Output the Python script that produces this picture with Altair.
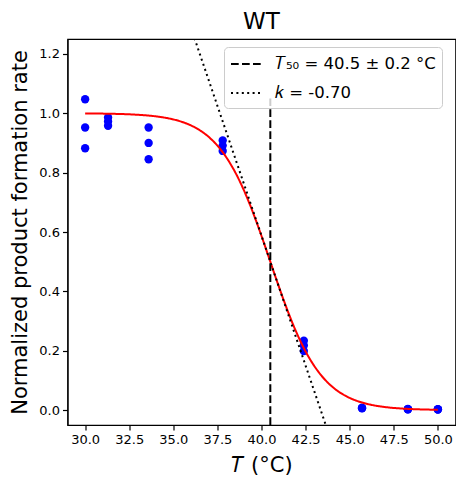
import altair as alt
import pandas as pd

# ---- data ----
temperature = [30.0, 31.3, 33.6, 37.8, 42.4, 45.7, 48.3, 50.0]
rep1 = [1.047, 0.986, 0.952, 0.908, 0.234, 0.008, 0.004, 0.003]
rep2 = [0.952, 0.972, 0.900, 0.891, 0.218, 0.007, 0.003, 0.003]
rep3 = [0.882, 0.958, 0.845, 0.873, 0.199, 0.006, 0.003, 0.002]

T50 = 40.5
T50_ERR = 0.2
K = -0.70

LAB_T50 = f"𝑇₅₀ = {T50} ± {T50_ERR} °C"
LAB_K = f"𝑘 = {K:.2f}"

points = pd.DataFrame({
    "T": temperature * 3,
    "rate": rep1 + rep2 + rep3,
})
vline = pd.DataFrame({"T": [T50], "y0": [-0.05], "y1": [1.05], "lab": [LAB_T50]})

xscale = alt.Scale(domain=[29, 51], nice=False, zero=False)
yscale = alt.Scale(domain=[-0.05, 1.25], nice=False, zero=False)

dash_scale = alt.Scale(domain=[LAB_T50, LAB_K], range=[[7.7, 3.3], [2, 3.4]])
legend = alt.Legend(
    title=None, orient="none", legendX=156.5, legendY=8,
    symbolType="M-1,0L2,0", symbolSize=400, symbolStrokeWidth=2,
    symbolStrokeColor="black", symbolFillColor="transparent",
    labelFontSize=16.5, labelFont="DejaVu Sans", labelLimit=400,
    labelColor="black", labelOffset=23, rowPadding=9, padding=6,
    fillColor="rgba(255,255,255,0.8)", strokeColor="#cccccc", cornerRadius=4,
)

x_enc = alt.X("T:Q", scale=xscale,
              axis=alt.Axis(title="𝑇 (°C)", values=[30, 32.5, 35, 37.5, 40, 42.5, 45, 47.5, 50],
                            format=".1f"))
y_enc = alt.Y("rate:Q", scale=yscale,
              axis=alt.Axis(title="Normalized product formation rate",
                            values=[0, 0.2, 0.4, 0.6, 0.8, 1.0, 1.2], format=".1f"))

pts = alt.Chart(points).mark_circle(size=70, color="blue", opacity=1).encode(x=x_enc, y=y_enc)

curve = alt.Chart(alt.sequence(30, 50.001, 0.05, as_="T")).transform_calculate(
    rate=f"1/(1+exp({-K}*(datum.T-{T50})))"
).mark_line(color="red", strokeWidth=2).encode(x="T:Q", y="rate:Q")

rule = alt.Chart(vline).mark_rule(color="black", strokeWidth=2).encode(
    x="T:Q", y="y0:Q", y2="y1:Q",
    strokeDash=alt.StrokeDash("lab:N", scale=dash_scale, legend=legend),
)

tangent = alt.Chart(alt.sequence(30, 50.001, 0.5, as_="T")).transform_calculate(
    rate=f"0.5+({K}/4)*(datum.T-{T50})", lab=f"'{LAB_K}'"
).mark_line(color="black", strokeWidth=2, clip=True).encode(
    x="T:Q", y="rate:Q",
    strokeDash=alt.StrokeDash("lab:N", scale=dash_scale, legend=legend),
)

chart = alt.layer(pts, curve, rule, tangent).properties(
    width=388, height=386,
    title=alt.TitleParams("WT", fontSize=23, fontWeight="normal", font="DejaVu Sans",
                          color="black", offset=5),
    autosize=alt.AutoSizeParams(type="none"),
    padding={"left": 59.5, "top": 31, "right": 0.5, "bottom": 50},
).configure_view(stroke="black", strokeWidth=1.2).configure_axis(
    grid=False, domainColor="black", tickColor="black", tickSize=5, tickWidth=1.2,
    labelFontSize=13, labelFont="DejaVu Sans", labelColor="black", labelPadding=3,
    titleFontSize=21, titleFont="DejaVu Sans", titleFontWeight="normal", titleColor="black",
    titlePadding=8, domainWidth=1.2,
)

chart.save("out.html", embed_options={"renderer": "svg", "actions": False})
